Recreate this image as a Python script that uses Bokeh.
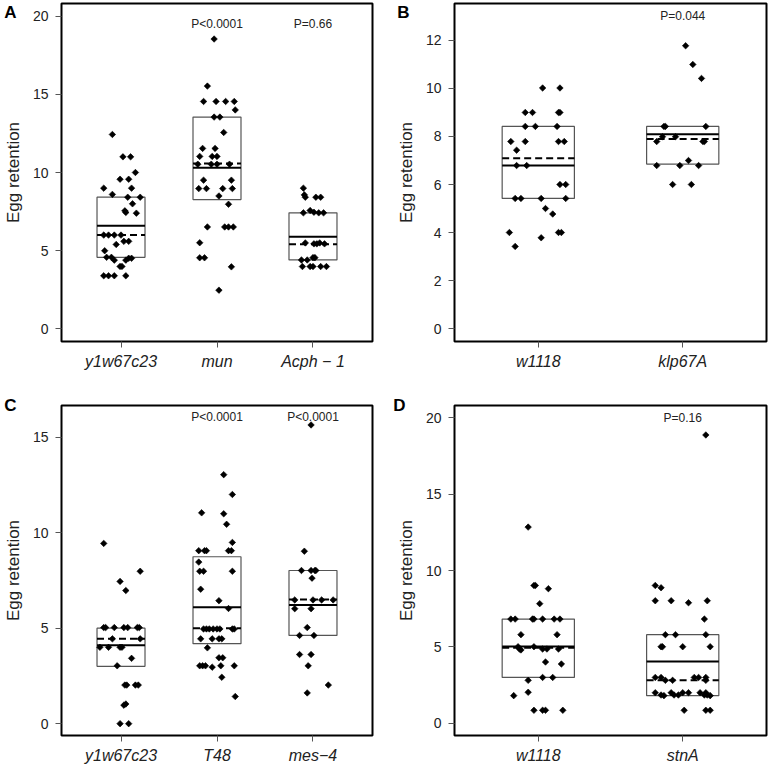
from bokeh.plotting import figure
from bokeh.layouts import gridplot
from bokeh.models import FixedTicker, Label, Range1d, LinearAxis
from bokeh.embed import file_html
from bokeh.resources import INLINE

FONT = "Liberation Sans"

# ---------------- Panel A ----------------
a_cats = ["y1w67c23", "mun", "Acph − 1"]
a_pvals = ["", "P<0.0001", "P=0.66"]
a_yticks = [0, 5, 10, 15, 20]
a_g1_vals = [12.43, 11.0, 11.0, 10.0, 9.57, 9.57, 9.0, 9.0, 8.6, 8.42, 8.42, 8.0, 7.55, 7.45, 7.4,
             6.0, 6.0, 6.0, 6.0, 5.0, 5.4, 5.6, 5.6, 4.58, 4.58, 4.4, 4.0, 4.0, 4.4, 4.52, 4.52,
             3.4, 3.4, 3.4, 3.4]
a_g1_jit = [-0.09, 0.02, 0.10, 0.15, -0.01, 0.08, -0.18, 0.11, -0.09, 0.07, 0.20, 0.12, 0.04, 0.05, 0.16,
            -0.18, -0.13, -0.07, 0.0, -0.17, -0.05, 0.03, 0.08, -0.15, -0.10, -0.07, -0.01, 0.01, 0.05, 0.08, 0.11,
            -0.18, -0.13, -0.07, 0.05]
a_g2_vals = [18.53, 15.52, 14.54, 14.54, 14.54, 14.54, 14.0, 13.54, 13.54, 12.56, 11.54, 11.54, 11.03, 11.03,
             11.03, 10.53, 10.53, 10.53, 10.53, 9.51, 9.51, 8.97, 8.97, 8.97, 8.97, 8.5, 7.97, 6.52, 6.52,
             6.52, 6.52, 5.51, 4.55, 4.55, 3.97, 2.48]
a_g2_jit = [-0.03, -0.10, -0.14, -0.01, 0.09, 0.18, 0.19, -0.03, 0.03, 0.07, -0.15, -0.02, -0.18, -0.05,
            0.0, -0.20, -0.06, 0.0, 0.13, -0.14, 0.15, -0.19, -0.11, 0.06, 0.16, 0.02, 0.12, -0.10, 0.08,
            0.12, 0.17, -0.18, -0.18, -0.13, 0.15, 0.02]
a_g3_vals = [9.0, 8.57, 8.42, 8.42, 8.42, 7.42, 7.57, 7.46, 7.42, 7.42, 5.5, 5.44, 5.44, 5.5, 5.44,
             4.41, 4.41, 4.56, 4.56, 3.99, 3.99, 3.99, 3.99, 3.99]
a_g3_jit = [-0.10, -0.09, -0.08, 0.03, 0.08, -0.10, -0.03, 0.01, 0.06, 0.11, -0.08, 0.01, 0.04, 0.07, 0.12,
            -0.12, -0.06, 0.0, 0.02, -0.11, -0.03, 0.0, 0.08, 0.14]
a_q1 = [4.58, 8.27, 4.41]
a_q3 = [8.42, 13.54, 7.42]
a_mean = [6.59, 10.3, 5.9]
a_median = [6.0, 10.58, 5.42]

# ---------------- Panel B ----------------
b_cats = ["w1118", "klp67A"]
b_pvals = ["", "P=0.044"]
b_yticks = [0, 2, 4, 6, 8, 10, 12]
b_g1_vals = [10.02, 10.02, 9.0, 9.0, 9.0, 9.0, 8.42, 8.42, 8.42, 7.79, 7.79, 7.79, 7.79, 7.43, 6.79, 6.79,
             6.0, 6.0, 5.42, 5.42, 5.42, 5.42, 5.0, 4.77, 4.0, 4.0, 4.0, 3.78, 3.42]
b_g1_jit = [0.03, 0.15, -0.09, -0.04, 0.14, 0.15, -0.09, -0.02, 0.13, -0.19, -0.09, 0.14, 0.18, -0.15, -0.15,
            -0.08, 0.15, 0.19, -0.16, -0.12, 0.02, 0.19, 0.05, 0.10, -0.20, 0.14, 0.16, 0.02, -0.16]
b_g2_vals = [11.78, 11.0, 10.42, 8.42, 8.42, 8.42, 7.79, 7.99, 7.99, 7.79, 7.79, 7.0, 6.79, 6.79, 6.79, 6.0, 6.0]
b_g2_jit = [0.02, 0.07, 0.13, -0.13, -0.12, 0.16, -0.18, -0.14, -0.05, 0.14, 0.15, 0.04, -0.18, -0.02, 0.11,
            -0.07, 0.06]
b_q1 = [5.42, 6.85]
b_q3 = [8.42, 8.42]
b_mean = [6.79, 8.09]
b_median = [7.09, 7.9]

# ---------------- Panel C ----------------
c_cats = ["y1w67c23", "T48", "mes−4"]
c_pvals = ["", "P<0.0001", "P<0.0001"]
c_yticks = [0, 5, 10, 15]
c_g1_vals = [9.44, 7.98, 7.45, 6.97, 5.03, 5.03, 5.03, 5.03, 5.03, 5.03, 5.03, 4.44, 4.44, 4.0, 4.0, 4.0, 4.0,
             3.42, 3.03, 2.02, 2.02, 2.02, 2.02, 0.97, 1.03, 0.0, 0.0]
c_g1_jit = [-0.18, 0.2, -0.01, 0.05, -0.18, -0.16, -0.07, 0.03, 0.07, 0.17, 0.19, -0.09, 0.2, -0.22, -0.13,
            -0.01, 0.01, 0.11, -0.04, 0.04, 0.06, 0.15, 0.18, 0.03, 0.05, -0.01, 0.08]
c_g2_vals = [13.04, 12.0, 11.04, 10.99, 10.44, 9.49, 9.06, 9.06, 9.06, 9.06, 9.06, 8.46, 7.98, 7.98, 7.98,
             7.04, 6.44, 6.03, 4.96, 4.96, 4.96, 4.96, 4.96, 4.96, 4.96, 4.96, 4.44, 4.44, 4.44, 4.44, 3.97,
             3.45, 3.45, 3.03, 3.03, 3.03, 2.96, 3.03, 3.03, 2.43, 1.42]
c_g2_jit = [0.07, 0.16, -0.16, 0.07, 0.10, 0.16, -0.19, -0.13, -0.11, 0.12, 0.15, -0.19, -0.18, -0.14, 0.16,
            -0.17, 0.02, 0.12, -0.14, -0.11, -0.08, -0.04, 0.0, 0.03, 0.16, 0.18, -0.17, -0.05, 0.02, 0.05,
            -0.10, 0.02, 0.06, -0.18, -0.15, -0.12, -0.05, 0.04, 0.18, 0.05, 0.19]
c_g3_vals = [15.64, 9.03, 8.02, 8.02, 8.02, 8.02, 7.62, 6.48, 6.48, 6.48, 6.48, 6.02, 6.02, 5.03, 4.62, 4.62,
             3.62, 3.62, 3.03, 2.02, 1.61]
c_g3_jit = [-0.02, -0.09, -0.12, -0.02, 0.02, 0.03, -0.01, -0.19, 0.0, 0.09, 0.21, -0.19, -0.02, -0.06, -0.14,
            0.01, -0.14, -0.02, -0.05, 0.16, -0.06]
c_q1 = [3.0, 4.19, 4.62]
c_q3 = [5.0, 8.74, 8.02]
c_mean = [4.1, 6.09, 6.22]
c_median = [4.44, 4.99, 6.5]

# ---------------- Panel D ----------------
d_cats = ["w1118", "stnA"]
d_pvals = ["", "P=0.16"]
d_yticks = [0, 5, 10, 15, 20]
d_g1_vals = [12.84, 9.02, 9.02, 8.81, 7.83, 6.82, 6.82, 6.82, 6.82, 6.82, 6.82, 6.82, 5.8, 5.8, 5.01, 4.86,
             4.8, 5.01, 4.86, 4.86, 4.86, 4.01, 3.88, 2.81, 3.0, 3.0, 1.81, 2.03, 0.85, 0.85, 0.85, 0.85]
d_g1_jit = [-0.07, -0.03, -0.02, 0.07, 0.01, -0.19, -0.16, -0.04, -0.03, 0.03, 0.11, 0.15, -0.12, 0.13, -0.14,
            -0.13, -0.12, -0.03, 0.03, 0.06, 0.14, 0.05, 0.16, -0.07, 0.03, 0.10, -0.17, -0.07, -0.03, 0.03,
            0.05, 0.17]
d_g2_vals = [18.87, 9.02, 8.87, 8.02, 8.02, 7.89, 8.02, 6.82, 5.8, 5.8, 5.8, 5.01, 5.01, 5.01, 5.01, 3.0, 3.0,
             2.81, 2.81, 3.0, 3.0, 3.0, 2.81, 2.0, 1.85, 1.81, 2.0, 1.85, 1.85, 2.0, 2.0, 2.0, 1.85, 2.0, 1.85,
             1.81, 0.85, 0.85, 0.85]
d_g2_jit = [0.16, -0.19, -0.15, -0.19, -0.08, 0.04, 0.17, 0.15, -0.12, -0.05, 0.16, -0.15, -0.14, 0.0, 0.19,
            -0.19, -0.15, -0.12, -0.07, 0.08, 0.11, 0.16, 0.16, -0.19, -0.15, -0.13, -0.08, -0.06, -0.03, 0.0,
            0.04, 0.12, 0.15, 0.16, 0.17, 0.19, 0.01, 0.16, 0.19]
d_q1 = [3.0, 1.81]
d_q3 = [6.82, 5.8]
d_mean = [5.03, 4.05]
d_median = [4.95, 2.81]


def make_panel(letter, cats, vals, jits, q1, q3, mean, median, pvals, yticks, yr, p_y,
               width, height, bl, br, bt, bb, letter_down, letter_standoff):
    n = len(cats)
    xs = list(range(1, n + 1))
    p = figure(width=width, height=height, output_backend="svg", toolbar_location=None,
               x_range=Range1d(0.5 - 0.04 * n, n + 0.5 + 0.04 * n), y_range=Range1d(*yr),
               min_border_left=bl, min_border_right=br, min_border_top=bt, min_border_bottom=bb,
               background_fill_color="white", border_fill_color="white")
    p.xgrid.visible = False
    p.ygrid.visible = False
    p.outline_line_color = "black"
    p.outline_line_width = 2
    p.outline_line_alpha = 1

    hw = 0.25
    p.quad(left=[x - hw for x in xs], right=[x + hw for x in xs], bottom=q1, top=q3,
           fill_color=None, line_color="#555555", line_width=1.2)
    p.segment(x0=[x - hw for x in xs], x1=[x + hw for x in xs], y0=mean, y1=mean,
              line_color="black", line_width=2)
    p.segment(x0=[x - hw for x in xs], x1=[x + hw for x in xs], y0=median, y1=median,
              line_color="black", line_width=2, line_dash="7 4")

    for i, (v, j) in enumerate(zip(vals, jits)):
        px = [xs[i] + jj for jj in j]
        p.scatter(x=px, y=v, marker="square", angle=0.785398, size=4.6,
                  fill_color="black", line_color="black", line_width=0.6)

    for i, t in enumerate(pvals):
        if t:
            p.add_layout(Label(x=xs[i], y=p_y, text=t, text_align="center", text_baseline="middle",
                               text_font=FONT, text_font_size="12px", text_color="#222222"))

    p.xaxis.ticker = FixedTicker(ticks=xs)
    p.xaxis.major_label_overrides = {x: c for x, c in zip(xs, cats)}
    p.xaxis.major_label_text_font_style = "italic"
    p.xaxis.major_label_text_font_size = "16px"
    p.xaxis.major_label_standoff = 5
    p.yaxis.ticker = FixedTicker(ticks=yticks)
    p.yaxis.major_label_text_font_size = "14px"
    p.yaxis.major_label_standoff = 7
    p.yaxis.axis_label = "Egg retention"
    p.yaxis.axis_label_text_font = FONT
    p.yaxis.axis_label_text_font_size = "17px"
    p.yaxis.axis_label_text_font_style = "normal"
    p.yaxis.axis_label_text_color = "#222222"
    p.yaxis.axis_label_standoff = 7
    for ax in (p.xaxis, p.yaxis):
        ax.axis_line_color = None
        ax.major_tick_line_color = "#555555"
        ax.major_tick_out = 6
        ax.major_tick_in = 0
        ax.minor_tick_line_color = None
        ax.major_label_text_font = FONT
        ax.major_label_text_color = "#222222"

    # panel letter, drawn as the single tick label of an extra, otherwise invisible left axis
    ltick = yr[1] - (yr[1] - yr[0]) * letter_down
    lax = LinearAxis(ticker=FixedTicker(ticks=[ltick]),
                     major_label_overrides={ltick: letter},
                     axis_line_color=None, major_tick_line_color=None, minor_tick_line_color=None,
                     major_tick_out=0, major_tick_in=0, major_label_standoff=letter_standoff,
                     major_label_text_font=FONT, major_label_text_font_size="17px",
                     major_label_text_font_style="bold", major_label_text_color="black")
    p.add_layout(lax, "left")
    return p


pA = make_panel("A", a_cats, [a_g1_vals, a_g2_vals, a_g3_vals], [a_g1_jit, a_g2_jit, a_g3_jit],
                a_q1, a_q3, a_mean, a_median, a_pvals, a_yticks, (-0.8, 20.8), 19.5,
                390, 381, 56, 18, 3, 40, 0.012, -16)
pB = make_panel("B", b_cats, [b_g1_vals, b_g2_vals], [b_g1_jit, b_g2_jit],
                b_q1, b_q3, b_mean, b_median, b_pvals, b_yticks, (-0.54, 13.54), 13.0,
                378, 381, 62, 2, 3, 40, 0.012, -16)
pC = make_panel("C", c_cats, [c_g1_vals, c_g2_vals, c_g3_vals], [c_g1_jit, c_g2_jit, c_g3_jit],
                c_q1, c_q3, c_mean, c_median, c_pvals, c_yticks, (-0.62, 16.66), 16.08,
                390, 385, 56, 18, 24, 26, 0.001, -16)
pD = make_panel("D", d_cats, [d_g1_vals, d_g2_vals], [d_g1_jit, d_g2_jit],
                d_q1, d_q3, d_mean, d_median, d_pvals, d_yticks, (-0.8, 20.8), 20.0,
                378, 385, 62, 2, 24, 26, 0.001, -12)

grid = gridplot([[pA, pB], [pC, pD]], toolbar_location=None)
open("out.html", "w").write(file_html(grid, INLINE))
